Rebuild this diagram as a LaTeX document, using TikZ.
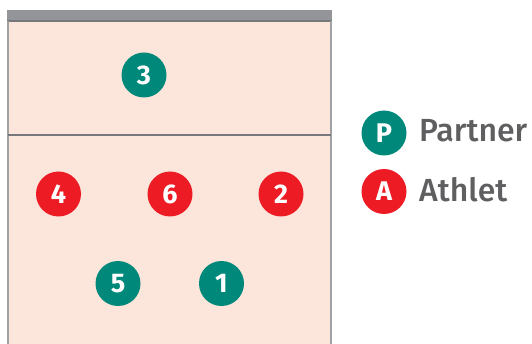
\documentclass[tikz,border=0pt]{standalone}
\usepackage{fontspec}
\setmainfont{Fira Sans}
\newfontfamily\numfont{Fira Sans Bold}
\newfontfamily\legfont{Fira Sans Medium}
\definecolor{teal}{RGB}{0,137,123}
\definecolor{athred}{RGB}{237,28,36}
\definecolor{courtfill}{RGB}{252,230,220}
\definecolor{barGray}{RGB}{147,149,152}
\definecolor{lineGray}{RGB}{119,120,123}
\definecolor{sideGray}{RGB}{160,161,165}
\definecolor{textGray}{RGB}{95,95,97}
\begin{document}
\begin{tikzpicture}[x=1pt,y=-1pt,
  player/.style={circle,minimum size=45pt,inner sep=0pt,text=white,font=\numfont\fontsize{27}{27}\selectfont},
  partner/.style={player,fill=teal},
  athlete/.style={player,fill=athred},
  legendtext/.style={anchor=west,text=textGray,font=\legfont\fontsize{32}{32}\selectfont,inner sep=0pt}]
\useasboundingbox (0,0) rectangle (532,344);
% court
\fill[courtfill] (8,21) rectangle (331,344);
\fill[barGray] (7,10) rectangle (332,21);
\draw[lineGray,line width=1.5pt] (7,21) -- (332,21);
\draw[sideGray,line width=2pt] (8,21) -- (8,344);
\draw[sideGray,line width=2pt] (331,21) -- (331,344);
\draw[lineGray,line width=2pt] (8,135) -- (331,135);
% players
\node[partner] (p3) at (144,75) {3};
\node[athlete] (p4) at (58.5,194) {4};
\node[athlete] (p6) at (170,194) {6};
\node[athlete] (p2) at (281,194) {2};
\node[partner] (p5) at (118,283.5) {5};
\node[partner] (p1) at (221.5,283.5) {1};
% legend
\node[partner] (lp) at (384,133) {P};
\node[athlete] (la) at (384,191.5) {A};
\node[legendtext] (lpt) at (419,131) {Partner};
\node[legendtext] (lat) at (419,189.5) {Athlet};
\end{tikzpicture}
\end{document}
